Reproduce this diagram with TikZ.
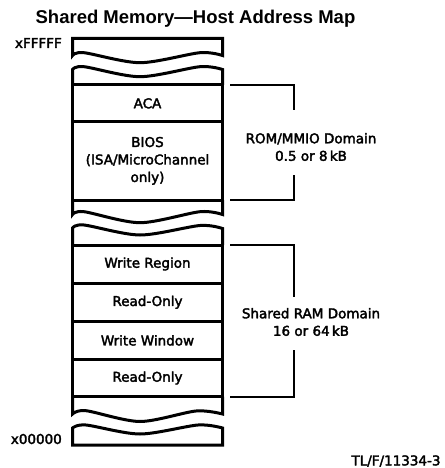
\documentclass[tikz,border=0pt]{standalone}
\usepackage{fontspec}
\setmainfont{DejaVu Sans}
\newfontfamily\labfont[FakeBold=2.5]{DejaVu Sans}
\newfontfamily\titlefont{Liberation Sans}
\begin{document}
\begin{tikzpicture}[x=1pt,y=-1pt,
  wall/.style={line width=3pt},
  cell/.style={draw, line width=3pt, minimum width=150pt, inner sep=0pt, outer sep=0pt,
    align=center, font=\labfont\fontsize{13.5}{17.5}\selectfont},
  brace/.style={line width=1.8pt},
  lbl/.style={font=\labfont\fontsize{13.5}{17.5}\selectfont, inner sep=0pt, align=center}]
\useasboundingbox (0,0) rectangle (444,468);

% title
\node[font=\titlefont\bfseries\fontsize{18.5}{22}\selectfont, anchor=base, inner sep=0pt]
  (title) at (195.5,23.3) {Shared Memory—Host Address Map};

% cells
\node[cell, minimum height=36.7pt] (aca)  at (147.5,103.35) {ACA};
\node[cell, minimum height=78.3pt] (bios) at (147.5,160.85) {BIOS\\(ISA/MicroChannel\\only)};
\node[cell, minimum height=38pt]   (wreg) at (147.5,264)    {Write Region};
\node[cell, minimum height=38.5pt] (ro1)  at (147.5,302.25) {Read-Only};
\node[cell, minimum height=37.8pt] (wwin) at (147.5,340.4)  {Write Window};
\node[cell, minimum height=37.4pt] (ro2)  at (147.5,378)    {Read-Only};

% top cap
\draw[wall] (72.5,55.5) -- (72.5,38.5) -- (222.5,38.5) -- (222.5,55.5)
  -- plot[smooth] coordinates {(222.5,55.5) (200,52.7) (140,62.7) (84,52.7) (72.5,55.5)} -- cycle;
% ROM block broken edges
\draw[wall] (aca.north west) -- (72.5,69.5)
  -- plot[smooth] coordinates {(72.5,69.5) (84,66.7) (140,76.7) (200,66.7) (222.5,69.5)}
  -- (aca.north east);
\draw[wall] (bios.south west) -- (72.5,214.5)
  -- plot[smooth] coordinates {(72.5,214.5) (84,211.7) (140,222.7) (200,211.7) (222.5,214.5)}
  -- (bios.south east);
% RAM block broken edges
\draw[wall] (wreg.north west) -- (72.5,228)
  -- plot[smooth] coordinates {(72.5,228) (84,225) (140,235) (200,225.5) (222.5,228.5)}
  -- (wreg.north east);
\draw[wall] (ro2.south west) -- (72.5,414)
  -- plot[smooth] coordinates {(72.5,414) (86,410.7) (140,421.5) (196,411) (222.5,414)}
  -- (ro2.south east);
% bottom cap
\draw[wall] (72.5,428) -- (72.5,445) -- (222.5,445) -- (222.5,428)
  -- plot[smooth] coordinates {(222.5,428) (198,425) (140,434) (86,425) (72.5,428)} -- cycle;

% address labels
\node[lbl, anchor=east] (top) at (62,43) {xFFFFF};
\node[lbl, anchor=east] (bot) at (62,439) {x00000};

% ROM bracket
\node[lbl] (rom) at (311,147) {ROM/MMIO Domain\\0.5 or 8\,kB};
\coordinate (romA) at (294,110);
\coordinate (romB) at (294,175);
\draw[brace] ([xshift=7.5pt]aca.north east) -| (romA);
\draw[brace] ([xshift=7.5pt]bios.south east) -| (romB);

% RAM bracket
\node[lbl] (ram) at (311,322) {Shared RAM Domain\\16 or 64\,kB};
\coordinate (ramA) at (294,296.7);
\coordinate (ramB) at (294,350);
\draw[brace] ([xshift=7.5pt]wreg.north east) -| (ramA);
\draw[brace] ([xshift=7.5pt]ro2.south east) -| (ramB);

% figure id
\node[lbl] (fig) at (396,461) {TL/F/11334-3};
\end{tikzpicture}
\end{document}
